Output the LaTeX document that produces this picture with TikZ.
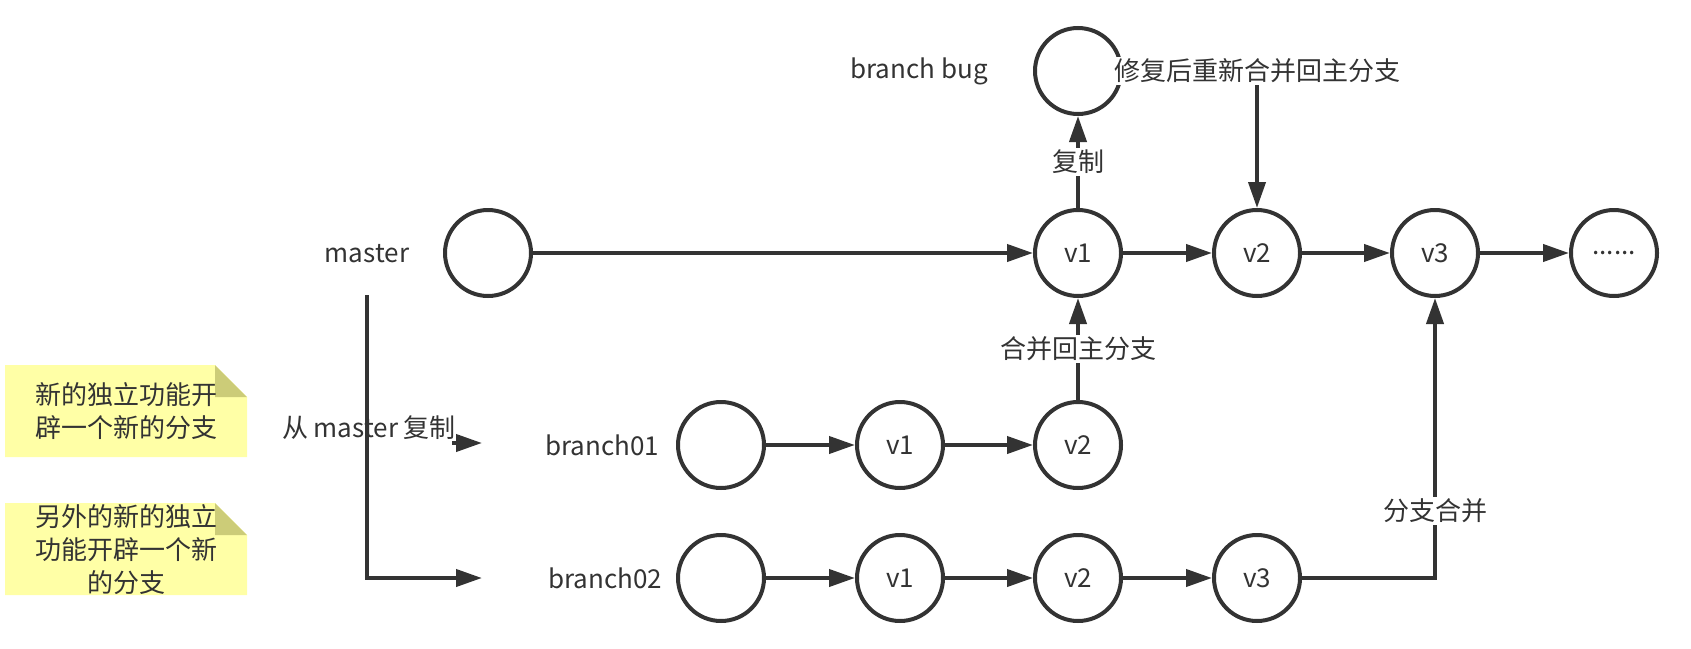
\documentclass[tikz,border=0pt]{standalone}
\usepackage{fontspec}
\setmainfont{Noto Sans CJK SC}
\usepackage{xcolor}
\usepackage{tikz}
\usetikzlibrary{arrows.meta}
\definecolor{DarkGray}{rgb}{0.2,0.2,0.2}
\definecolor{NoteYellow}{rgb}{1,1,0.65}
\definecolor{NoteFold}{rgb}{0.8,0.8,0.47}

\begin{document}
\begin{tikzpicture}[x=0.5pt, y=-0.5pt, line width=2pt, draw=DarkGray,
		every node/.style={font=\fontsize{13pt}{16.5pt}\selectfont, text=DarkGray},
		commit/.style={circle, draw=DarkGray, minimum size=43pt, inner sep=0pt, fill=white},
		tag/.style={fill=white, inner sep=1pt},
		>={Triangle[length=13pt, width=8.5pt]}]
		\useasboundingbox (0,0) rectangle (1691,648);
		
		% notes
		\fill [NoteYellow] (5,365) -- (215,365) -- (247,397) -- (247,457) -- (5,457) -- cycle;
		\fill [NoteFold] (215,365) -- (247,397) -- (215,397) -- cycle;
		\node [align=center] (note1) at (126,411) {新的独立功能开\\辟一个新的分支};
		
		\fill [NoteYellow] (5,503) -- (215,503) -- (247,535) -- (247,595) -- (5,595) -- cycle;
		\fill [NoteFold] (215,503) -- (247,535) -- (215,535) -- cycle;
		\node [align=center] (note2) at (126,550) {另外的新的独立\\功能开辟一个新\\的分支};
		
		% branch names
		\node (lmaster) at (367,254) {master};
		\node (lbug) at (919,71) {branch bug};
		\node (lb1) at (602,445) {branch01};
		\node (lb2) at (605,578) {branch02};
		\node (lcopy) at (369,428) {从 master 复制};
		
		% commits
		\node [commit] (m0) at (488,253) {};
		\node [commit] (m1) at (1078,253) {v1};
		\node [commit] (m2) at (1257,253) {v2};
		\node [commit] (m3) at (1435,253) {v3};
		\node [commit] (m4) at (1614,253) {......};
		\node [commit] (bug) at (1078,71) {};
		
		\node [commit] (a0) at (721,445) {};
		\node [commit] (a1) at (900,445) {v1};
		\node [commit] (a2) at (1078,445) {v2};
		
		\node [commit] (b0) at (721,578) {};
		\node [commit] (b1) at (900,578) {v1};
		\node [commit] (b2) at (1078,578) {v2};
		\node [commit] (b3) at (1257,578) {v3};
		
		\foreach \a/\b in {m0/m1, m1/m2, m2/m3, m3/m4, a0/a1, a1/a2, b0/b1, b1/b2, b2/b3}
			\draw [->] (\a) -- (\b);
		
		\draw [->] (m1) -- node[tag] {复制} (bug);
		\draw [->] (bug) -| node[tag] {修复后重新合并回主分支} (m2);
		\draw [->] (a2) -- node[tag] {合并回主分支} (m1);
		\draw [->] (b3) -| node[tag, pos=0.62] {分支合并} (m3);
		
		\coordinate (fork) at (367,295);
		\coordinate (to2) at (482,578);
		\coordinate (from1) at (452,443);
		\coordinate (to1) at (482,443);
		\draw [->] (fork) |- (to2);
		\draw [->] (from1) -- (to1);
	\end{tikzpicture}
\end{document}
